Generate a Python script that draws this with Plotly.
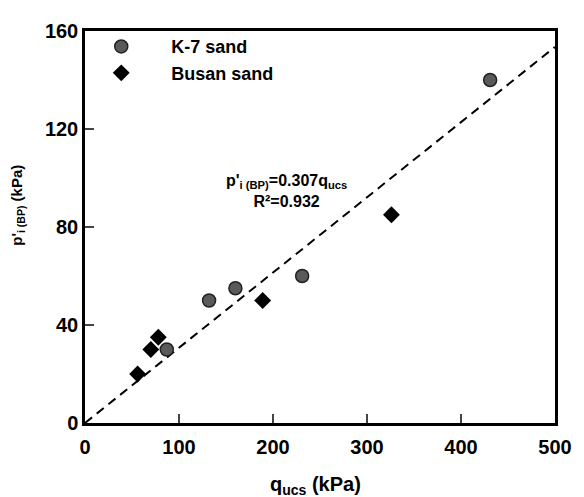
import plotly.graph_objects as go

# Data
k7_q = [87, 132, 160, 231, 431]
k7_p = [30, 50, 55, 60, 140]
busan_q = [56, 70, 78, 189, 326]
busan_p = [20, 30, 35, 50, 85]
fit_slope = 0.307
fit_x = [0, 500]
fit_y = [fit_slope * v for v in fit_x]
x_ticks = [0, 100, 200, 300, 400, 500]
y_ticks = [0, 40, 80, 120, 160]

FONT = "Liberation Sans, Arial, Helvetica, sans-serif"
NB = "\u00a0"

fig = go.Figure()
fig.add_trace(go.Scatter(
    x=fit_x, y=fit_y, mode="lines", showlegend=False,
    line=dict(color="black", width=2, dash="9px,6px"), hoverinfo="skip"))
fig.add_trace(go.Scatter(
    x=k7_q, y=k7_p, mode="markers", name=NB * 4 + "K-7 sand",
    marker=dict(symbol="circle", size=13, color="#5a5a5a",
                line=dict(color="#222222", width=1.5))))
fig.add_trace(go.Scatter(
    x=busan_q, y=busan_p, mode="markers", name=NB * 4 + "Busan sand",
    marker=dict(symbol="diamond", size=13, color="black",
                line=dict(color="black", width=0))))

fig.add_annotation(
    x=214, y=94.5, xref="x", yref="y", showarrow=False,
    text="<b>p'<sub>i (BP)</sub>=0.307q<sub>ucs</sub></b><br><b>R²=0.932</b>",
    font=dict(family=FONT, size=16, color="black"), align="center")

# axis titles (positions relative to plot area)
fig.add_annotation(
    x=0.49, y=-0.159, xref="paper", yref="paper", showarrow=False,
    xanchor="center", yanchor="middle",
    text="<b>q<sub>ucs</sub> (kPa)</b>",
    font=dict(family=FONT, size=20, color="black"))
fig.add_annotation(
    x=-0.144, y=0.555, xref="paper", yref="paper", showarrow=False,
    xanchor="center", yanchor="middle", textangle=-90,
    text="<b>p'<sub>i (BP)</sub> (kPa)</b>",
    font=dict(family=FONT, size=15, color="black"))

fig.update_layout(
    width=576, height=489,
    margin=dict(l=77, r=20, t=13, b=74),
    paper_bgcolor="white", plot_bgcolor="white",
    font=dict(family=FONT, color="black"),
    legend=dict(x=0.0133, y=1.007, xanchor="left", yanchor="top",
                bgcolor="rgba(0,0,0,0)", itemwidth=50,
                font=dict(family=FONT, size=18, weight="bold", color="black"),
                tracegroupgap=2),
)
fig.update_xaxes(
    range=[0, 500], tickvals=x_ticks, ticks="inside", ticklen=9, tickwidth=2,
    showline=True, linewidth=2.5, linecolor="black", mirror=True,
    showgrid=False, zeroline=False, ticklabelstandoff=4,
    tickfont=dict(family=FONT, size=20, weight="bold", color="black"))
fig.update_yaxes(
    range=[0, 160], tickvals=y_ticks, ticks="inside", ticklen=9, tickwidth=2,
    showline=True, linewidth=2.5, linecolor="black", mirror=True,
    showgrid=False, zeroline=False,
    tickfont=dict(family=FONT, size=20, weight="bold", color="black"))

fig.write_html("out.html")
